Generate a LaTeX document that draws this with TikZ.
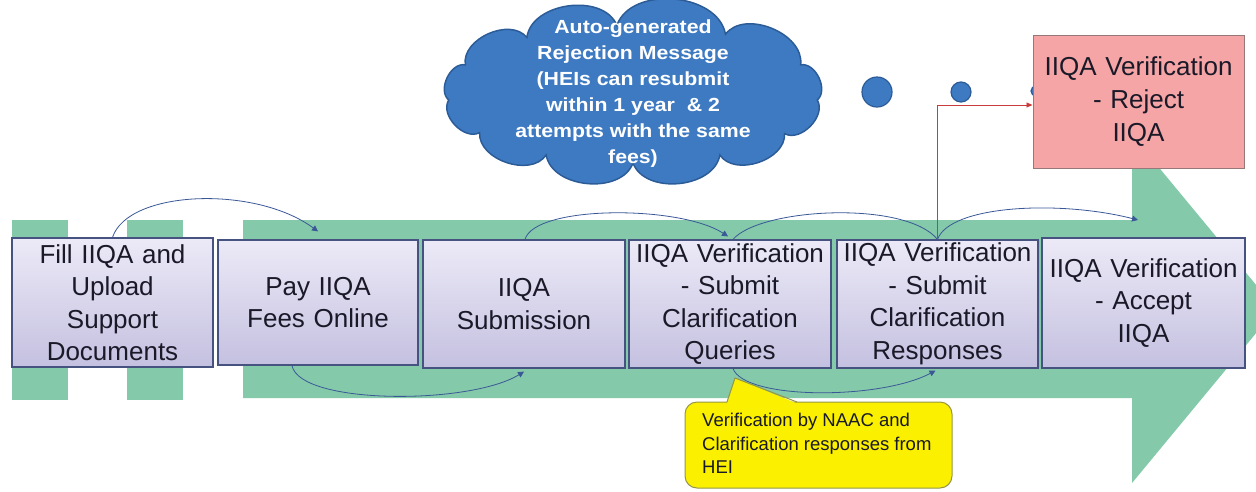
\documentclass[tikz,border=0pt]{standalone}
\usepackage{fontspec}
\setmainfont{Liberation Sans}
\newfontfamily\cloudfont[FakeStretch=1.12]{Liberation Sans}
\usetikzlibrary{arrows.meta}
\definecolor{band}{RGB}{132,201,170}
\definecolor{boxtop}{RGB}{236,234,247}
\definecolor{boxbot}{RGB}{196,192,224}
\definecolor{boxline}{RGB}{70,82,128}
\definecolor{conn}{RGB}{58,88,150}
\definecolor{cloudfill}{RGB}{62,122,194}
\definecolor{cloudline}{RGB}{44,92,152}
\definecolor{rejfill}{RGB}{245,165,165}
\definecolor{rejline}{RGB}{150,120,120}
\definecolor{redline}{RGB}{200,60,60}
\definecolor{yel}{RGB}{250,240,0}
\definecolor{yelline}{RGB}{150,150,70}
\definecolor{txt}{RGB}{25,25,40}
\tikzset{
  stepbox/.style={draw=boxline, line width=1.2pt, top color=boxtop, bottom color=boxbot,
    inner sep=0pt, text width=#1, align=center, text=txt,
    font=\fontsize{26}{32.5}\selectfont},
  conn/.style={draw=conn, line width=0.8pt},
  connarrow/.style={conn, -{Triangle[length=6pt,width=6pt]}},
  dot/.style={circle, fill=cloudfill, draw=cloudline, line width=1.2pt, inner sep=0pt},
  puff/.style={bend left=#1},
}
\begin{document}
\begin{tikzpicture}[x=1pt,y=-1pt]
\useasboundingbox (0,0) rectangle (1256,491);
\clip (0,0) rectangle (1256,491);
% green band
\fill[band] (12,220) rectangle (68,400);
\fill[band] (127,220) rectangle (183,400);
\fill[band] (243,220) -- (1132,220) -- (1132,135) -- (1276,309) -- (1132,483) -- (1132,398) -- (243,398) -- cycle;
% cloud
\coordinate (cc) at (633,94);
\foreach \a [count=\i] in {5,35,62,90,118,146,175,205,235,265,300,335}
  \coordinate (p\i) at ({633+185*cos(\a)},{94+69*sin(\a)});
\filldraw[draw=cloudline, fill=cloudfill, line width=1.5pt]
  (p1) to[puff=75] (p2) to[puff=75] (p3) to[puff=75] (p4) to[puff=75] (p5) to[puff=75] (p6)
  to[puff=75] (p7) to[puff=75] (p8) to[puff=75] (p9) to[puff=75] (p10) to[puff=75] (p11)
  to[puff=75] (p12) to[puff=75] (p1) -- cycle;
\node[text=white, align=center, inner sep=0pt,
  font=\cloudfont\bfseries\fontsize{19}{26}\selectfont] (cloudtext) at (cc)
  {Auto-generated\\Rejection Message\\(HEIs can resubmit\\within 1 year \ \& 2\\attempts with the same\\fees)};
% dots
\node[dot, minimum size=30pt] (d1) at (877,92) {};
\node[dot, minimum size=20pt] (d2) at (961,92) {};
\node[dot, minimum size=10pt] (d3) at (1036,91) {};
% boxes
\node[stepbox=198pt, minimum width=201pt, minimum height=129pt] (b1) at (112.5,302.5) {Fill IIQA and\\Upload\\Support\\Documents};
\node[stepbox=198pt, minimum width=200pt, minimum height=125pt] (b2) at (318,302.5) {Pay IIQA\\Fees Online};
\node[stepbox=198pt, minimum width=202pt, minimum height=128pt] (b3) at (524,304) {IIQA\\Submission};
\node[stepbox=200pt, minimum width=202pt, minimum height=128pt] (b4) at (730,304) {IIQA Verification\\- Submit\\Clarification\\Queries};
\node[stepbox=200pt, minimum width=201pt, minimum height=128pt] (b5) at (937.5,304) {IIQA Verification\\- Submit\\Clarification\\Responses};
\node[stepbox=203pt, minimum width=203pt, minimum height=130pt] (b6) at (1143.5,303) {IIQA Verification\\- Accept\\IIQA};
\node[draw=rejline, fill=rejfill, line width=1pt, inner sep=0pt, text width=210pt, align=center, text=txt,
  font=\fontsize{26}{33}\selectfont, minimum width=211pt, minimum height=133pt] (rej) at (1138.5,101.5)
  {IIQA Verification\\- Reject\\IIQA};
% connectors
\draw[connarrow] (b1.north) .. controls (128,190) and (255,185) .. ([yshift=8pt]b2.north);
\draw[connarrow] ([xshift=-26pt]b2.south) .. controls (300,405) and (470,405) .. ([yshift=-3pt]b3.south);
\draw[connarrow] ([xshift=1pt]b3.north) .. controls (535,205) and (680,205) .. ([xshift=-2pt,yshift=3pt]b4.north);
\draw[conn] ([xshift=3pt]b4.north) .. controls (760,208) and (905,200) .. (b5.north);
\draw[connarrow] ([xshift=3pt]b4.south) .. controls (745,400) and (880,400) .. ([xshift=-2pt,yshift=-2pt]b5.south);
\coordinate (headtop) at (1138,220);
\draw[connarrow] (b5.north) .. controls (950,205) and (1060,200) .. (headtop);
\draw[draw=redline, line width=0.8pt, -{Triangle[length=6pt,width=5pt]}] (b5.north) |- ([yshift=-3.5pt]rej.west);
% callout
\fill[yel, draw=yelline, line width=1pt, rounded corners=12pt] (685,402) rectangle (952,488);
\fill[yel] (727,403.5) -- (735,378) -- (797,403.5) -- cycle;
\draw[yelline, line width=1pt] (727,402) -- (735,378) -- (797,402);
\node[anchor=north west, inner sep=0pt, align=left, text=txt, font=\fontsize{18.5}{23.5}\selectfont] (note) at (702,413)
  {Verification by NAAC and\\Clarification responses from\\HEI};
\end{tikzpicture}
\end{document}
